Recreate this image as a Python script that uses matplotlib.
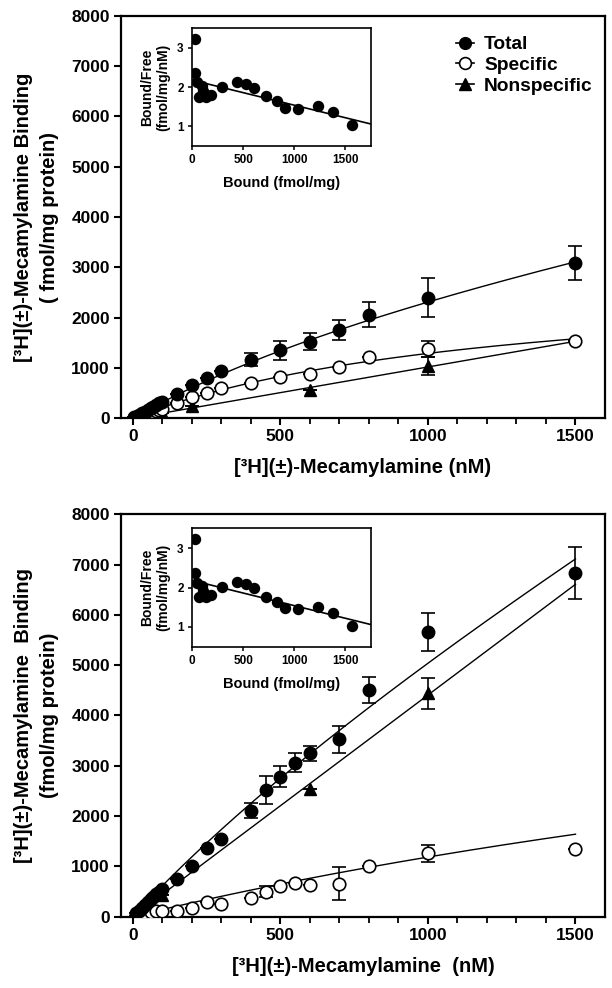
import numpy as np
import matplotlib
matplotlib.use("Agg")
import matplotlib.pyplot as plt

plt.rcParams['font.family'] = ['Liberation Sans', 'DejaVu Sans']
plt.rcParams['font.weight'] = 'bold'

# ---------------- Top panel data ----------------
top_total_x = [5, 10, 20, 30, 40, 50, 60, 70, 80, 90, 100, 150, 200, 250, 300, 400, 500, 600, 700, 800, 1000, 1500]
top_total_y = [18, 35, 70, 100, 135, 165, 200, 230, 265, 295, 330, 490, 665, 810, 940, 1160, 1355, 1525, 1760, 2055, 2400, 3090]
top_total_err = [0, 0, 0, 0, 0, 0, 0, 0, 0, 0, 0, 0, 0, 0, 0, 130, 190, 165, 200, 250, 380, 340]

top_spec_x = [5, 10, 20, 30, 40, 50, 60, 70, 80, 90, 100, 150, 200, 250, 300, 400, 500, 600, 700, 800, 1000, 1500]
top_spec_y = [10, 20, 40, 60, 80, 100, 118, 135, 150, 165, 180, 300, 430, 510, 595, 705, 820, 890, 1020, 1210, 1375, 1545]
top_spec_err = [0, 0, 0, 0, 0, 0, 0, 0, 0, 0, 0, 0, 0, 0, 0, 0, 0, 0, 0, 0, 160, 0]

top_ns_x = [10, 50, 100, 200, 600, 1000]
top_ns_y = [10, 50, 110, 240, 570, 1045]
top_ns_err = [0, 0, 0, 0, 0, 180]

# fitted curves (one-site specific + linear nonspecific)
top_spec_bmax = 2872.0
top_spec_kd = 1227.0
top_ns_slope = 1.02

# ---------------- Bottom panel data ----------------
bot_total_x = [10, 20, 30, 40, 50, 60, 70, 80, 90, 100, 150, 200, 250, 300, 400, 450, 500, 550, 600, 700, 800, 1000, 1500]
bot_total_y = [60, 110, 170, 230, 290, 340, 390, 440, 490, 543, 749, 1014, 1372, 1544, 2101, 2519, 2784, 3062, 3248, 3526, 4507, 5654, 6827]
bot_total_err = [0, 0, 0, 0, 0, 0, 0, 0, 0, 0, 0, 0, 0, 0, 150, 280, 200, 190, 150, 270, 265, 380, 520]

bot_spec_x = [10, 20, 40, 60, 80, 100, 150, 200, 250, 300, 400, 450, 500, 550, 600, 700, 800, 1000, 1500]
bot_spec_y = [15, 30, 50, 80, 100, 119, 113, 166, 298, 252, 365, 497, 610, 663, 630, 650, 1007, 1259, 1345]
bot_spec_err = [0, 0, 0, 0, 0, 0, 0, 0, 0, 0, 0, 100, 0, 0, 0, 330, 0, 170, 0]

bot_ns_x = [100, 600, 1000]
bot_ns_y = [430, 2537, 4440]
bot_ns_err = [0, 0, 310]

bot_total_lin = 3.4
bot_total_bmax = 3713.0
bot_total_kd = 1268.0
bot_spec_bmax = 7094.0
bot_spec_kd = 5000.0
bot_ns_slope = 4.405

# ---------------- Scatchard inset data ----------------
sc_bound = [26, 26, 49, 66, 95, 110, 140, 185, 290, 438, 527, 610, 725, 831, 907, 1032, 1230, 1378, 1560]
sc_bf = [3.23, 2.37, 2.12, 1.76, 2.03, 1.90, 1.75, 1.80, 2.01, 2.14, 2.08, 1.99, 1.77, 1.64, 1.47, 1.45, 1.51, 1.36, 1.03]
sc_intercept = 2.18
sc_slope = -0.00064

x_ticks = [0, 500, 1000, 1500]
y_ticks = [0, 1000, 2000, 3000, 4000, 5000, 6000, 7000, 8000]

W, H = 612, 988
fig = plt.figure(figsize=(W / 100, H / 100), dpi=100)


def px_axes(left, top, right, bottom):
    return fig.add_axes([left / W, 1 - bottom / H, (right - left) / W, (bottom - top) / H])


MS = 8.5
LW = 1.0
CAP = 5


def style_main(ax):
    ax.set_xlim(-40, 1600)
    ax.set_ylim(0, 8000)
    ax.set_xticks(x_ticks)
    ax.set_xticks(np.arange(100, 1600, 100), minor=True)
    ax.set_yticks(y_ticks)
    for s in ax.spines.values():
        s.set_linewidth(1.6)
    ax.tick_params(which='major', direction='out', length=5, width=1.5, labelsize=12.5, pad=3)
    ax.tick_params(which='minor', direction='out', length=4, width=1.3)
    for lab in ax.get_xticklabels() + ax.get_yticklabels():
        lab.set_fontweight('bold')


def style_inset(ax):
    ax.set_xlim(0, 1750)
    ax.set_ylim(0.5, 3.5)
    ax.set_xticks([0, 500, 1000, 1500])
    ax.set_yticks([1, 2, 3])
    for s in ax.spines.values():
        s.set_linewidth(1.2)
    ax.tick_params(direction='out', length=3, width=1.1, labelsize=8.5, pad=3)
    for lab in ax.get_xticklabels() + ax.get_yticklabels():
        lab.set_fontweight('bold')
    ax.set_xlabel('Bound (fmol/mg)', fontsize=10.5, fontweight='bold', labelpad=7)
    ax.set_ylabel('Bound/Free\n(fmol/mg/nM)', fontsize=10, fontweight='bold', labelpad=5,
                  linespacing=1.15)


def draw_inset(ax):
    ax.plot(sc_bound, sc_bf, 'o', color='black', ms=7.2, zorder=3)
    xx = np.linspace(0, 1750, 50)
    ax.plot(xx, sc_intercept + sc_slope * xx, '-', color='black', lw=1.2)
    style_inset(ax)


# ---------------- Top panel ----------------
ax1 = px_axes(121, 15.7, 605, 418.3)
xx = np.linspace(0, 1500, 300)
spec_fit = top_spec_bmax * xx / (top_spec_kd + xx)
ns_fit = top_ns_slope * xx
ax1.plot(xx, spec_fit + ns_fit, '-', color='black', lw=LW)
ax1.plot(xx, spec_fit, '-', color='black', lw=LW)
ax1.plot(xx, ns_fit, '-', color='black', lw=LW)

ax1.errorbar(top_ns_x, top_ns_y, yerr=top_ns_err, fmt='^', color='black', ms=MS,
             capsize=CAP, elinewidth=1.2, capthick=1.2, zorder=3)
ax1.errorbar(top_spec_x, top_spec_y, yerr=top_spec_err, fmt='o', color='black', mfc='white',
             mec='black', mew=1.2, ms=MS + 0.5, capsize=CAP, elinewidth=1.2, capthick=1.2, zorder=4)
ax1.errorbar(top_total_x, top_total_y, yerr=top_total_err, fmt='o', color='black', ms=MS + 0.5,
             capsize=CAP, elinewidth=1.2, capthick=1.2, zorder=5)

style_main(ax1)
ax1.set_xlabel('[³H](±)-Mecamylamine (nM)', fontsize=14.5, fontweight='bold', labelpad=10)
ax1.set_ylabel('[³H](±)-Mecamylamine Binding\n( fmol/mg protein)', fontsize=14.5,
               fontweight='bold', labelpad=9, linespacing=1.45)

h_tot, = ax1.plot([], [], 'o-', color='black', ms=8.5, lw=1.2)
h_spec, = ax1.plot([], [], 'o-', color='black', mfc='white', mew=1.2, ms=8.5, lw=1.2)
h_ns, = ax1.plot([], [], '^-', color='black', ms=8.5, lw=1.2)
leg = ax1.legend([h_tot, h_spec, h_ns], ['Total', 'Specific', 'Nonspecific'],
                 loc='upper left', bbox_to_anchor=(0.693, 0.95), frameon=False,
                 prop={'size': 13.8, 'weight': 'bold'}, handlelength=0.9,
                 handletextpad=0.55, labelspacing=0.17, borderpad=0, borderaxespad=0)

ins1 = px_axes(192, 28.3, 371, 146)
draw_inset(ins1)

# ---------------- Bottom panel ----------------
ax2 = px_axes(121, 514.3, 605, 916.5)
tot_fit = bot_total_lin * xx + bot_total_bmax * xx / (bot_total_kd + xx)
bspec_fit = bot_spec_bmax * xx / (bot_spec_kd + xx)
bns_fit = bot_ns_slope * xx
ax2.plot(xx, tot_fit, '-', color='black', lw=LW)
ax2.plot(xx, bspec_fit, '-', color='black', lw=LW)
ax2.plot(xx, bns_fit, '-', color='black', lw=LW)

ax2.errorbar(bot_ns_x, bot_ns_y, yerr=bot_ns_err, fmt='^', color='black', ms=MS,
             capsize=CAP, elinewidth=1.2, capthick=1.2, zorder=3)
ax2.errorbar(bot_spec_x, bot_spec_y, yerr=bot_spec_err, fmt='o', color='black', mfc='white',
             mec='black', mew=1.2, ms=MS + 0.5, capsize=CAP, elinewidth=1.2, capthick=1.2, zorder=4)
ax2.errorbar(bot_total_x, bot_total_y, yerr=bot_total_err, fmt='o', color='black', ms=MS + 0.5,
             capsize=CAP, elinewidth=1.2, capthick=1.2, zorder=5)

style_main(ax2)
ax2.set_xlabel('[³H](±)-Mecamylamine  (nM)', fontsize=14.5, fontweight='bold', labelpad=10)
ax2.set_ylabel('[³H](±)-Mecamylamine  Binding\n(fmol/mg protein)', fontsize=14.5,
               fontweight='bold', labelpad=9, linespacing=1.45)

ins2 = px_axes(192, 528.3, 371, 646.7)
draw_inset(ins2)

fig.savefig('out.png', dpi=100)
